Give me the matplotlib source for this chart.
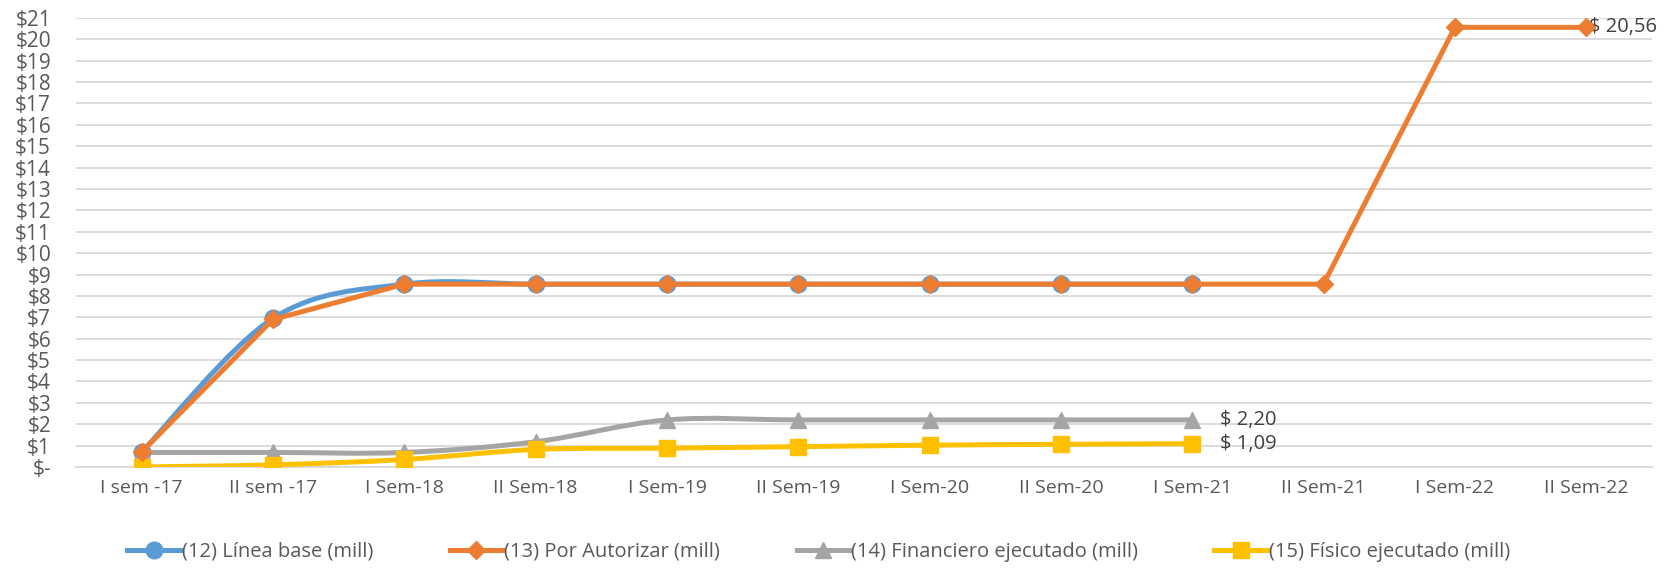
import matplotlib
matplotlib.use("Agg")
import matplotlib.pyplot as plt
from matplotlib.path import Path
from matplotlib.patches import PathPatch
from matplotlib.lines import Line2D
import numpy as np

plt.rcParams['font.family'] = ['Open Sans', 'DejaVu Sans']

periodos = ['I sem -17', 'II sem -17', 'I Sem-18', 'II Sem-18', 'I Sem-19', 'II Sem-19',
            'I Sem-20', 'II Sem-20', 'I Sem-21', 'II Sem-21', 'I Sem-22', 'II Sem-22']

linea_base = [0.70, 6.95, 8.55, 8.55, 8.55, 8.55, 8.55, 8.55, 8.55]
por_autorizar = [0.70, 6.90, 8.55, 8.55, 8.55, 8.55, 8.55, 8.55, 8.55, 8.55, 20.56, 20.56]
financiero = [0.68, 0.68, 0.68, 1.18, 2.20, 2.20, 2.20, 2.20, 2.20]
fisico = [0.00, 0.10, 0.35, 0.82, 0.88, 0.95, 1.02, 1.06, 1.09]

c_azul = '#5B9BD5'
c_naranja = '#ED7D31'
c_gris = '#A5A5A5'
c_amarillo = '#FFC000'
c_texto = '#595959'
lw = 3.6


def curva_suave(ax, ys, color, lw, z):
    # bezier suave al estilo de Excel (Catmull-Rom)
    xs = np.arange(len(ys), dtype=float)
    ys = np.asarray(ys, dtype=float)
    pts = np.column_stack([xs, ys])
    verts = [pts[0]]
    codes = [Path.MOVETO]
    n = len(pts)
    for i in range(n - 1):
        p0 = pts[max(i - 1, 0)]
        p1 = pts[i]
        p2 = pts[i + 1]
        p3 = pts[min(i + 2, n - 1)]
        c1 = p1 + (p2 - p0) / 6.0
        c2 = p2 - (p3 - p1) / 6.0
        verts += [c1, c2, p2]
        codes += [Path.CURVE4] * 3
    patch = PathPatch(Path(verts, codes), facecolor='none', edgecolor=color,
                      lw=lw, zorder=z, capstyle='round', joinstyle='round')
    ax.add_patch(patch)


fig = plt.figure(figsize=(16.71, 5.72), dpi=100)
ax = fig.add_axes([0.0455, 0.1836, 0.943, 0.785])

x_all = np.arange(len(periodos))

curva_suave(ax, linea_base, c_azul, lw, 3)
ax.plot(x_all[:len(linea_base)], linea_base, ls='none', marker='o', ms=12, color=c_azul, zorder=4)

ax.plot(x_all, por_autorizar, color=c_naranja, lw=lw, marker='D', ms=9.5, zorder=5)

curva_suave(ax, financiero, c_gris, lw, 3)
ax.plot(x_all[:len(financiero)], financiero, ls='none', marker='^', ms=12, color=c_gris, zorder=4)

curva_suave(ax, fisico, c_amarillo, lw, 3)
ax.plot(x_all[:len(fisico)], fisico, ls='none', marker='s', ms=11, color=c_amarillo, zorder=4)

# etiquetas de valor
ax.annotate('$ 20,56', (x_all[-1], por_autorizar[-1]), xytext=(2, 0), textcoords='offset points',
            va='center', ha='left', fontsize=14.5, color='#404040')
ax.annotate('$ 2,20', (len(financiero) - 1, financiero[-1]), xytext=(20, 0), textcoords='offset points',
            va='center', ha='left', fontsize=14.5, color='#404040')
ax.annotate('$ 1,09', (len(fisico) - 1, fisico[-1]), xytext=(20, 0), textcoords='offset points',
            va='center', ha='left', fontsize=14.5, color='#404040')

ax.set_xlim(-0.5, len(periodos) - 0.5)
ax.set_ylim(0, 21)
ax.set_xticks(x_all)
ax.set_xticklabels(periodos, fontsize=14, color=c_texto)
ax.set_yticks(range(0, 22))
ax.set_yticklabels(['$-'] + ['$%d' % v for v in range(1, 22)], fontsize=15, color=c_texto)
ax.tick_params(length=0, pad=9)
ax.tick_params(axis='y', pad=18)
ax.grid(axis='y', color='#D9D9D9', lw=1.3)
ax.set_axisbelow(True)
for s in ['top', 'right', 'left']:
    ax.spines[s].set_visible(False)
ax.spines['bottom'].set_color('#D9D9D9')
ax.spines['bottom'].set_linewidth(1.3)

handles = [
    Line2D([], [], color=c_azul, lw=lw, marker='o', ms=12),
    Line2D([], [], color=c_naranja, lw=lw, marker='D', ms=9.5),
    Line2D([], [], color=c_gris, lw=lw, marker='^', ms=12),
    Line2D([], [], color=c_amarillo, lw=lw, marker='s', ms=11),
]
etiquetas = ['(12) Línea base (mill)', '(13) Por Autorizar (mill)',
             '(14) Financiero ejecutado (mill)', '(15) Físico ejecutado (mill)']
leg = fig.legend(handles, etiquetas, loc='center', bbox_to_anchor=(0.49, 0.035), ncol=4,
                 frameon=False, fontsize=14.5, handlelength=2.6, handletextpad=0.1,
                 columnspacing=3.8, labelcolor=c_texto)

fig.savefig('out.png', dpi=100)
